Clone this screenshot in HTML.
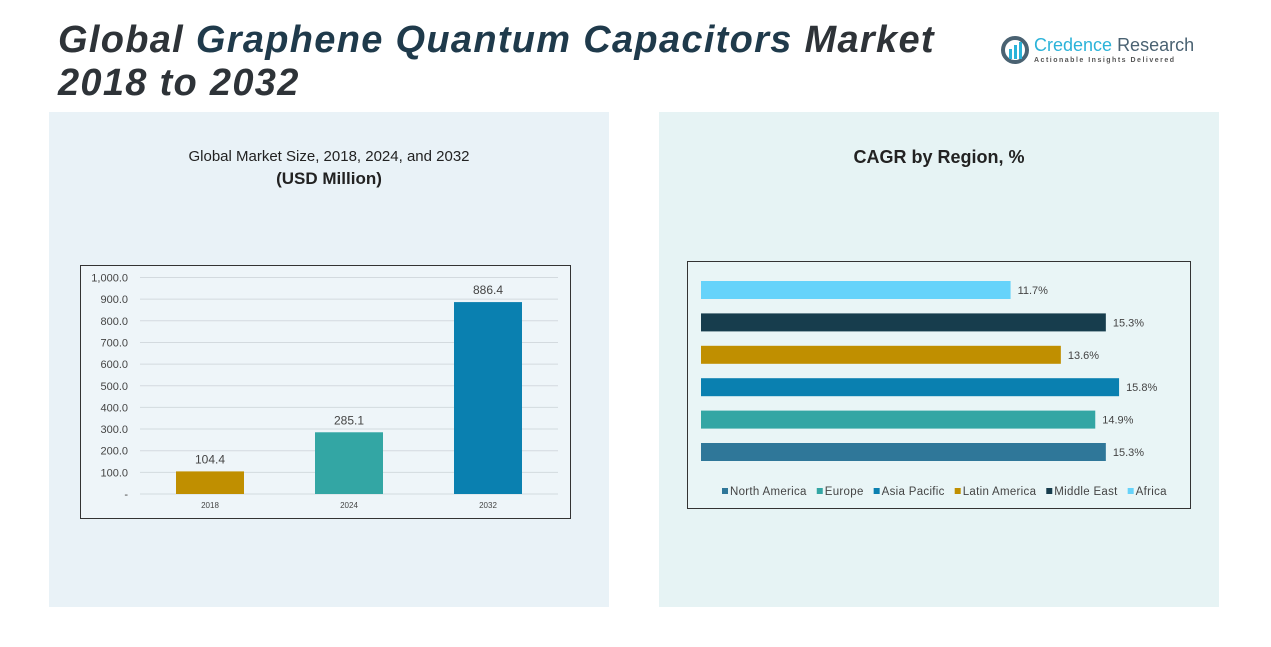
<!DOCTYPE html>
<html><head><meta charset="utf-8"><style>
body{margin:0;width:1271px;height:647px;background:#fff;overflow:hidden;font-family:"Liberation Sans",sans-serif;position:relative}
.t{position:absolute;left:58px;top:19px;font-size:38px;letter-spacing:1.3px;font-weight:bold;font-style:italic;color:#2e3338;line-height:43px}
</style></head><body>
<div class="t">Global <span style="color:#1f3a4b">Graphene Quantum Capacitors</span> Market<br>2018 to 2032</div>
<div style="position:absolute;left:1000px;top:33px">
<svg width="32" height="34"><circle cx="15" cy="17" r="12" fill="none" stroke="#4a6272" stroke-width="4"/><rect x="9" y="16" width="3" height="10" fill="#2bb3d9"/><rect x="14" y="12" width="3" height="14" fill="#2bb3d9"/><rect x="19" y="9" width="3" height="17" fill="#2bb3d9"/></svg>
<span style="position:absolute;left:34px;top:2px;font-size:18px;color:#2bb3d9;white-space:nowrap">Credence <span style="color:#4a6272">Research</span></span>
<span style="position:absolute;left:34px;top:24px;font-size:7px;color:#555;letter-spacing:1.5px;white-space:nowrap;font-weight:bold">Actionable Insights Delivered</span>
</div>
<div style="position:absolute;left:49px;top:112px;width:560px;height:495px;background:#e9f2f7"></div>
<div style="position:absolute;left:659px;top:112px;width:560px;height:495px;background:#e6f3f4"></div>
<div style="position:absolute;left:49px;width:560px;top:146px;text-align:center;font-size:15px;color:#222;line-height:22px">Global Market Size, 2018, 2024, and 2032<br><b style="font-size:17px">(USD Million)</b></div>
<div style="position:absolute;left:659px;width:560px;top:147px;text-align:center;font-size:18px;font-weight:bold;color:#222">CAGR by Region, %</div>
<svg id="c1" width="1271" height="647" style="position:absolute;left:0;top:0"></svg>
<script>
const years=["2018","2024","2032"];
const sizes=[104.4,285.1,886.4];
const yTicks=[0,100,200,300,400,500,600,700,800,900,1000];
const yTickLabels=["-","100.0","200.0","300.0","400.0","500.0","600.0","700.0","800.0","900.0","1,000.0"];
const barColors=["#c08f00","#33a6a4","#0a80b0"];
const regions=["Africa","Middle East","Latin America","Asia Pacific","Europe","North America"];
const cagr=[11.7,15.3,13.6,15.8,14.9,15.3];
const regionColors=["#66d3fa","#173d4d","#c08f00","#0a80b0","#33a6a4","#2f7799"];
const legendOrder=["North America","Europe","Asia Pacific","Latin America","Middle East","Africa"];
const NS="http://www.w3.org/2000/svg";
const svg=document.getElementById('c1');
function mk(t,a,p){const e=document.createElementNS(NS,t);for(const k in a)e.setAttribute(k,a[k]);(p||svg).appendChild(e);return e;}
let fr=mk('rect',{x:80.5,y:265.5,width:490,height:253,fill:"#eef5f9",stroke:"#333","stroke-width":1});

const y=v=>494-v*0.2165;
const xC=i=>210+i*139;
yTicks.forEach((t,i)=>{
 const g=mk('line',{x1:140,x2:558,y1:y(t),y2:y(t),stroke:"#d3dadf","stroke-width":1});
 
 const l=mk('text',{x:128,y:y(t)+4,"text-anchor":"end","font-size":11,fill:"#444"});l.textContent=yTickLabels[i];
 
});
sizes.forEach((v,i)=>{
 const r=mk('rect',{x:xC(i)-34,y:y(v),width:68,height:y(0)-y(v),fill:barColors[i]});
 
 const l=mk('text',{x:xC(i),y:y(v)-8,"text-anchor":"middle","font-size":12,fill:"#444"});l.textContent=v.toFixed(1);
 
 const xl=mk('text',{x:xC(i),y:508,"text-anchor":"middle","font-size":8,fill:"#444"});xl.textContent=years[i];
 
});
let fr2=mk('rect',{x:687.5,y:261.5,width:503,height:247,fill:"#e9f5f6",stroke:"#333","stroke-width":1});

const xs=v=>701+v*26.46;
const yb=i=>281+i*32.4;
cagr.forEach((v,i)=>{
 const r=mk('rect',{x:701,y:yb(i),width:xs(v)-701,height:18,fill:regionColors[i]});
 
 const l=mk('text',{x:xs(v)+7,y:yb(i)+13,"font-size":11,fill:"#444"});l.textContent=v.toFixed(1)+"%";
 
});
let lx=722;
legendOrder.forEach(n=>{
 const c=regionColors[regions.indexOf(n)];
 const s=mk('rect',{x:lx,y:488,width:6,height:6,fill:c});
 
 const t=mk('text',{x:lx+8,y:495,"font-size":11.5,"letter-spacing":0.3,fill:"#444"});t.textContent=n;
 
 lx+=10+t.getComputedTextLength()+8;
});
</script>
</body></html>
